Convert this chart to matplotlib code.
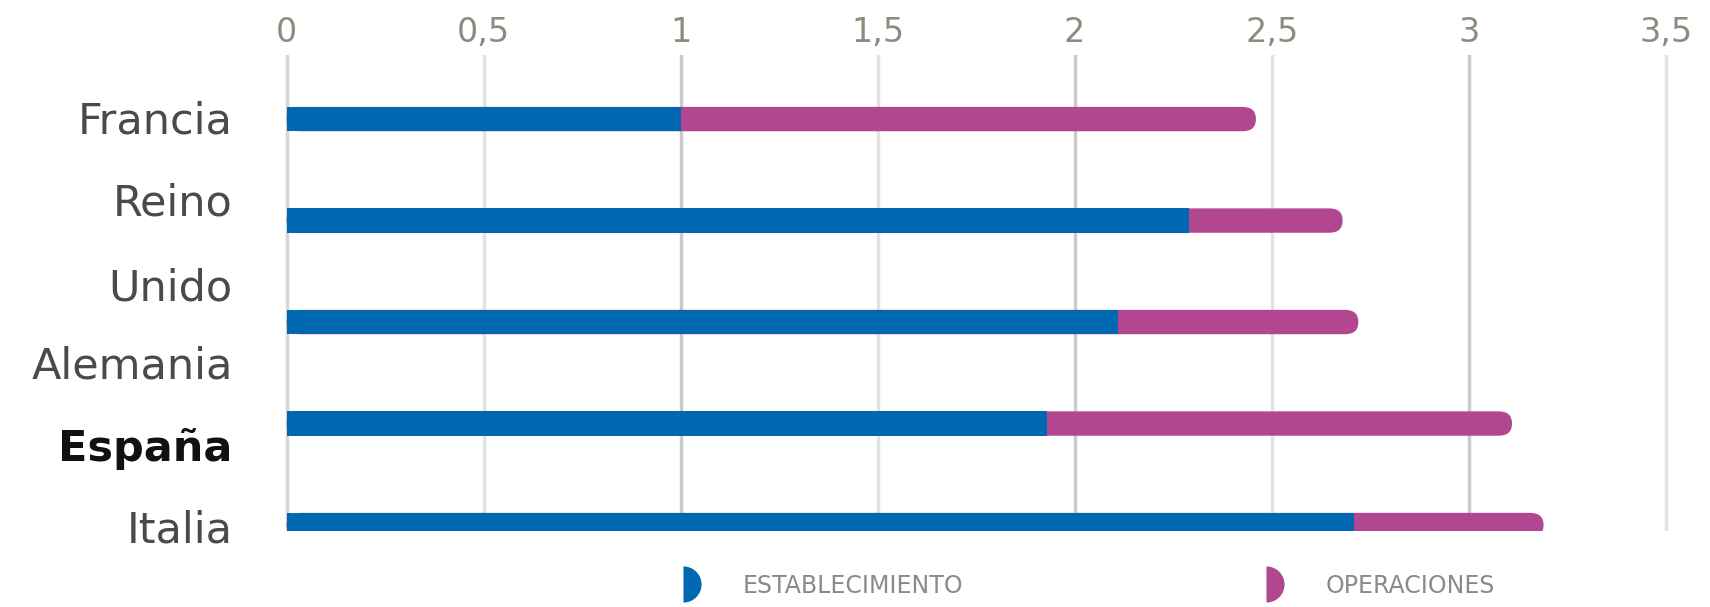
import matplotlib.pyplot as plt
from matplotlib.lines import Line2D
from matplotlib.patches import FancyBboxPatch
from matplotlib.transforms import blended_transform_factory

countries = ['Francia', 'Reino\nUnido', 'Alemania', 'España', 'Italia']
establecimiento = [1.0, 2.29, 2.11, 1.93, 2.71]
operaciones = [1.46, 0.39, 0.61, 1.18, 0.48]
series_names = ['ESTABLECIMIENTO', 'OPERACIONES']
xticks = [0, 0.5, 1, 1.5, 2, 2.5, 3, 3.5]
xtick_labels = ['0', '0,5', '1', '1,5', '2', '2,5', '3', '3,5']

BLUE = '#0068b1'
MAGENTA = '#b24691'
BAR_H = 0.24

# labels in the original sit a bit off their bars
label_dy = [0.02, 0.25, 0.44, 0.25, 0.05]


def plot_chart():
	fig = plt.figure(figsize=(17.1, 6.07), dpi=100)
	ax = fig.add_axes([0.163, 0.125, 0.8157, 0.785])

	ypos = list(range(len(countries)))
	# magenta runs the full length with a rounded end, blue sits on top of it
	for y, e, o in zip(ypos, establecimiento, operaciones):
		ax.add_patch(FancyBboxPatch((0, y - BAR_H / 2), e + o, BAR_H,
									boxstyle='round,pad=0,rounding_size=0.034',
									mutation_aspect=3.45, facecolor=MAGENTA,
									edgecolor='none', zorder=3))
	ax.barh(ypos, establecimiento, height=BAR_H, color=BLUE, zorder=4)

	ax.set_xlim(-0.02, 3.52)
	ax.set_ylim(4.06, -0.635)

	ax.xaxis.tick_top()
	ax.set_xticks(xticks)
	ax.set_xticklabels(xtick_labels, fontsize=24, color='#8f8a7e')
	ax.tick_params(axis='x', length=0, pad=4)
	ax.set_yticks([])
	for s in ax.spines.values():
		s.set_visible(False)

	ax.grid(axis='x', linewidth=2.5, zorder=0)
	for i, gl in enumerate(ax.get_xgridlines()):
		gl.set_color('#cacaca' if i % 2 == 0 else '#e3e3e3')
	ax.get_xgridlines()[0].set_color('#d6d6d6')

	trans = blended_transform_factory(ax.transAxes, ax.transData)
	for i, name in enumerate(countries):
		bold = name == 'España'
		ax.text(-0.033, i + label_dy[i], name, transform=trans, ha='right', va='center',
				fontsize=31, linespacing=2.3,
				color='#111111' if bold else '#4a4a4a',
				fontweight='bold' if bold else 'normal')

	handles = [Line2D([], [], linestyle='none', marker='o', fillstyle='right', markersize=26,
					  markerfacecolor=c, markerfacecoloralt='none', markeredgewidth=0)
			   for c in (BLUE, MAGENTA)]
	fig.legend(handles, series_names, loc='center left', bbox_to_anchor=(0.380, 0.035),
			   ncol=2, frameon=False, fontsize=17, labelcolor='#8a8a8a',
			   handlelength=1.0, handletextpad=2.05, columnspacing=12.3)

	fig.savefig('out.png', dpi=100)


if __name__ == '__main__':
	plot_chart()
